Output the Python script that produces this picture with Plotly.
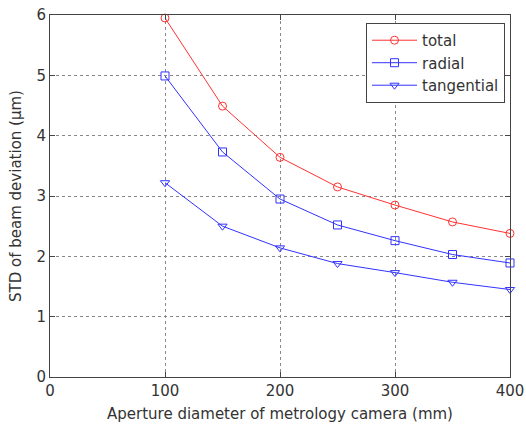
import plotly.graph_objects as go

aperture = [100, 150, 200, 250, 300, 350, 400]
total = [5.95, 4.49, 3.64, 3.15, 2.85, 2.57, 2.38]
radial = [4.99, 3.73, 2.95, 2.52, 2.26, 2.03, 1.89]
tangential = [3.22, 2.50, 2.14, 1.88, 1.73, 1.57, 1.45]

x_ticks = [0, 100, 200, 300, 400]
y_ticks = [0, 1, 2, 3, 4, 5, 6]

font_family = "DejaVu Sans, sans-serif"

fig = go.Figure()
series = [
    ("total", total, "rgb(255,50,50)", "circle-open"),
    ("radial", radial, "rgb(50,50,255)", "square-open"),
    ("tangential", tangential, "rgb(50,50,255)", "triangle-down-open"),
]
for name, vals, col, sym in series:
    fig.add_trace(go.Scatter(
        x=aperture, y=vals, name=name, mode="lines+markers",
        line=dict(color=col, width=1),
        marker=dict(symbol=sym, size=8, color=col, line=dict(width=1, color=col)),
        cliponaxis=False,
    ))

axis_common = dict(
    showline=True, linecolor="#444", linewidth=1, mirror="ticks",
    ticks="inside", ticklen=5, tickcolor="#444",
    showgrid=True, gridcolor="#888", griddash="dot", gridwidth=1,
    zeroline=False, automargin=False, ticklabeloverflow="allow",
    tickfont=dict(size=15, color="#333", family=font_family),
)

fig.update_layout(
    width=526, height=425,
    margin=dict(l=50, r=16, t=15, b=48),
    paper_bgcolor="white", plot_bgcolor="white",
    font=dict(family=font_family, color="#333"),
    xaxis=dict(range=[0, 400], tickvals=x_ticks,
               title=dict(text="Aperture diameter of metrology camera (mm)",
                          font=dict(size=15, color="#333"), standoff=9),
               **axis_common),
    yaxis=dict(range=[0, 6], tickvals=y_ticks,
               title=dict(text="STD of beam deviation (μm)",
                          font=dict(size=15, color="#333"), standoff=11),
               **axis_common),
    legend=dict(x=0.687, y=0.978, xanchor="left", yanchor="top",
                bordercolor="#444", borderwidth=1, bgcolor="white",
                itemwidth=45,
                font=dict(size=15, color="#333"), tracegroupgap=0),
    showlegend=True,
)

# Remove the default 8px page margin so the figure fills the window exactly.
fig.write_html("out.html",
               config={"displayModeBar": False},
               post_script="document.body.style.margin='0';document.body.style.overflow='hidden';")
